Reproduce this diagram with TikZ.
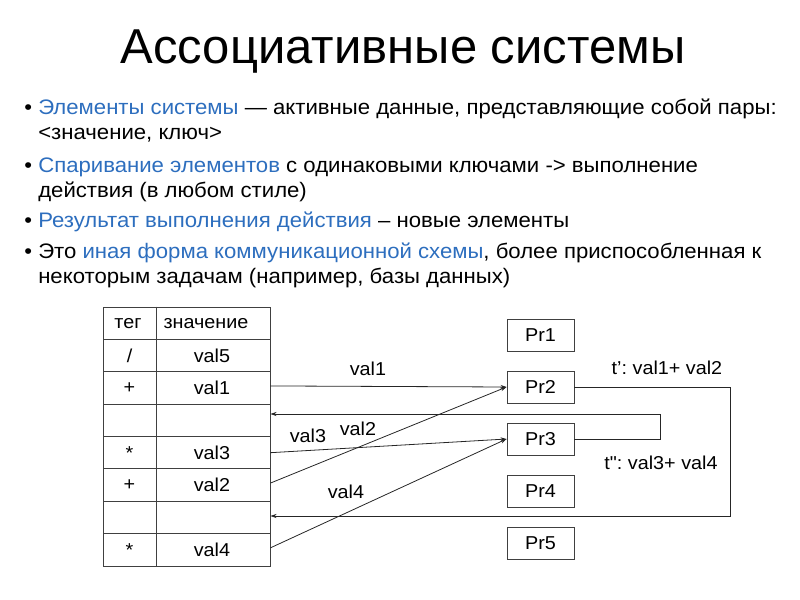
\documentclass[tikz,border=0pt]{standalone}
\usepackage{fontspec}
\setmainfont{Liberation Sans}[FakeStretch=1.055]
\newfontfamily\titlefont{Liberation Sans}
\newfontfamily\smallfont{Liberation Sans}[FakeStretch=1.06]
\usetikzlibrary{arrows.meta,calc}
\definecolor{hl}{RGB}{45,110,190}
\frenchspacing
\begin{document}
\begin{tikzpicture}[x=0.75pt,y=-0.75pt,
  body/.style={anchor=base west,inner sep=0pt,font=\fontsize{15.75pt}{18pt}\selectfont},
  small/.style={inner sep=0pt,font=\smallfont\fontsize{14pt}{16pt}\selectfont},
  row/.style={draw=black!75,line width=0.7pt,minimum width=125.25pt,minimum height=24.28pt,inner sep=0pt},
  prbox/.style={draw=black!75,line width=0.7pt,minimum width=50.25pt,minimum height=24pt,inner sep=0pt,font=\smallfont\fontsize{14pt}{16pt}\selectfont},
  conn/.style={line width=0.6pt,draw=black!85},
  arr/.style={conn,-{Stealth[length=4.5pt,width=3pt]}}]
\useasboundingbox (0,0) rectangle (800,600);
% title
\node[anchor=base,inner sep=0pt,font=\titlefont\fontsize{36.75pt}{40pt}\selectfont] (title) at (403,63) {Ассоциативные системы};
% bullets
\node[body] (b1) at (24,114) {•};
\node[body] (t1) at (38,114) {{\color{hl}Элементы системы} — активные данные, представляющие собой пары:};
\node[body] (t2) at (38,139) {<значение, ключ>};
\node[body] (b2) at (24,172) {•};
\node[body] (t3) at (38,172) {{\color{hl}Спаривание элементов} с одинаковыми ключами -> выполнение};
\node[body] (t4) at (38,197) {действия (в любом стиле)};
\node[body] (b3) at (24,227) {•};
\node[body] (t5) at (38,227) {{\color{hl}Результат выполнения действия} – новые элементы};
\node[body] (b4) at (24,258) {•};
\node[body] (t6) at (38,258) {Это {\color{hl}иная форма коммуникационной схемы}, более приспособленная к};
\node[body] (t7) at (38,283) {некоторым задачам (например, базы данных)};
% table rows
\foreach \i in {1,...,8}{
  \node[row] (row\i) at (186.5,{307+32.375*(\i-0.5)}) {};
}
\draw[draw=black!75,line width=0.7pt] (row1.north west -| 156,0) -- (row8.south west -| 156,0);
% cell texts
\node[small] (k1) at (128,323.2) {тег};
\node[small] (v1) at (206,323.2) {значение};
\node[small] (k2) at (129.5,355.6) {/};
\node[small] (v2) at (212,355.6) {val5};
\node[small] (k3) at (129.5,388) {+};
\node[small] (v3) at (212,388) {val1};
\node[small] (k5) at (129.5,452.7) {*};
\node[small] (v5) at (212,452.7) {val3};
\node[small] (k6) at (129.5,485) {+};
\node[small] (v6) at (212,485) {val2};
\node[small] (k8) at (129.5,549.8) {*};
\node[small] (v8) at (212,549.8) {val4};
% process boxes
\node[prbox] (pr1) at (540.5,335) {Pr1};
\node[prbox] (pr2) at (540.5,387) {Pr2};
\node[prbox] (pr3) at (540.5,439) {Pr3};
\node[prbox] (pr4) at (540.5,491) {Pr4};
\node[prbox] (pr5) at (540.5,543) {Pr5};
% connectors
\draw[arr] ($(row3.east)+(0,-2)$) -- (pr2.west);
\draw[arr] ($(row6.east)+(0,-2)$) -- (pr2.west);
\draw[arr] (row5.east) -- (pr3.west);
\draw[arr] ($(row8.east)+(0,-2)$) -- (pr3.west);
\coordinate (c1) at (660,439);
\coordinate (c2) at (660,414);
\draw[arr] (pr3.east) -- (c1) -- (c2) -- (c2 -| row4.east);
\coordinate (c3) at (730,387);
\coordinate (c4) at (730,516);
\draw[arr] (pr2.east) -- (c3) -- (c4) -- (c4 -| row7.east);
% labels
\node[small] (l1) at (368,369) {val1};
\node[small] (l3) at (308,436) {val3};
\node[small] (l2) at (358,429) {val2};
\node[small] (l4) at (346,492) {val4};
\node[small] (lt1) at (667,368) {t’: val1+ val2};
\node[small] (lt2) at (661,463) {t": val3+ val4};
\end{tikzpicture}
\end{document}
